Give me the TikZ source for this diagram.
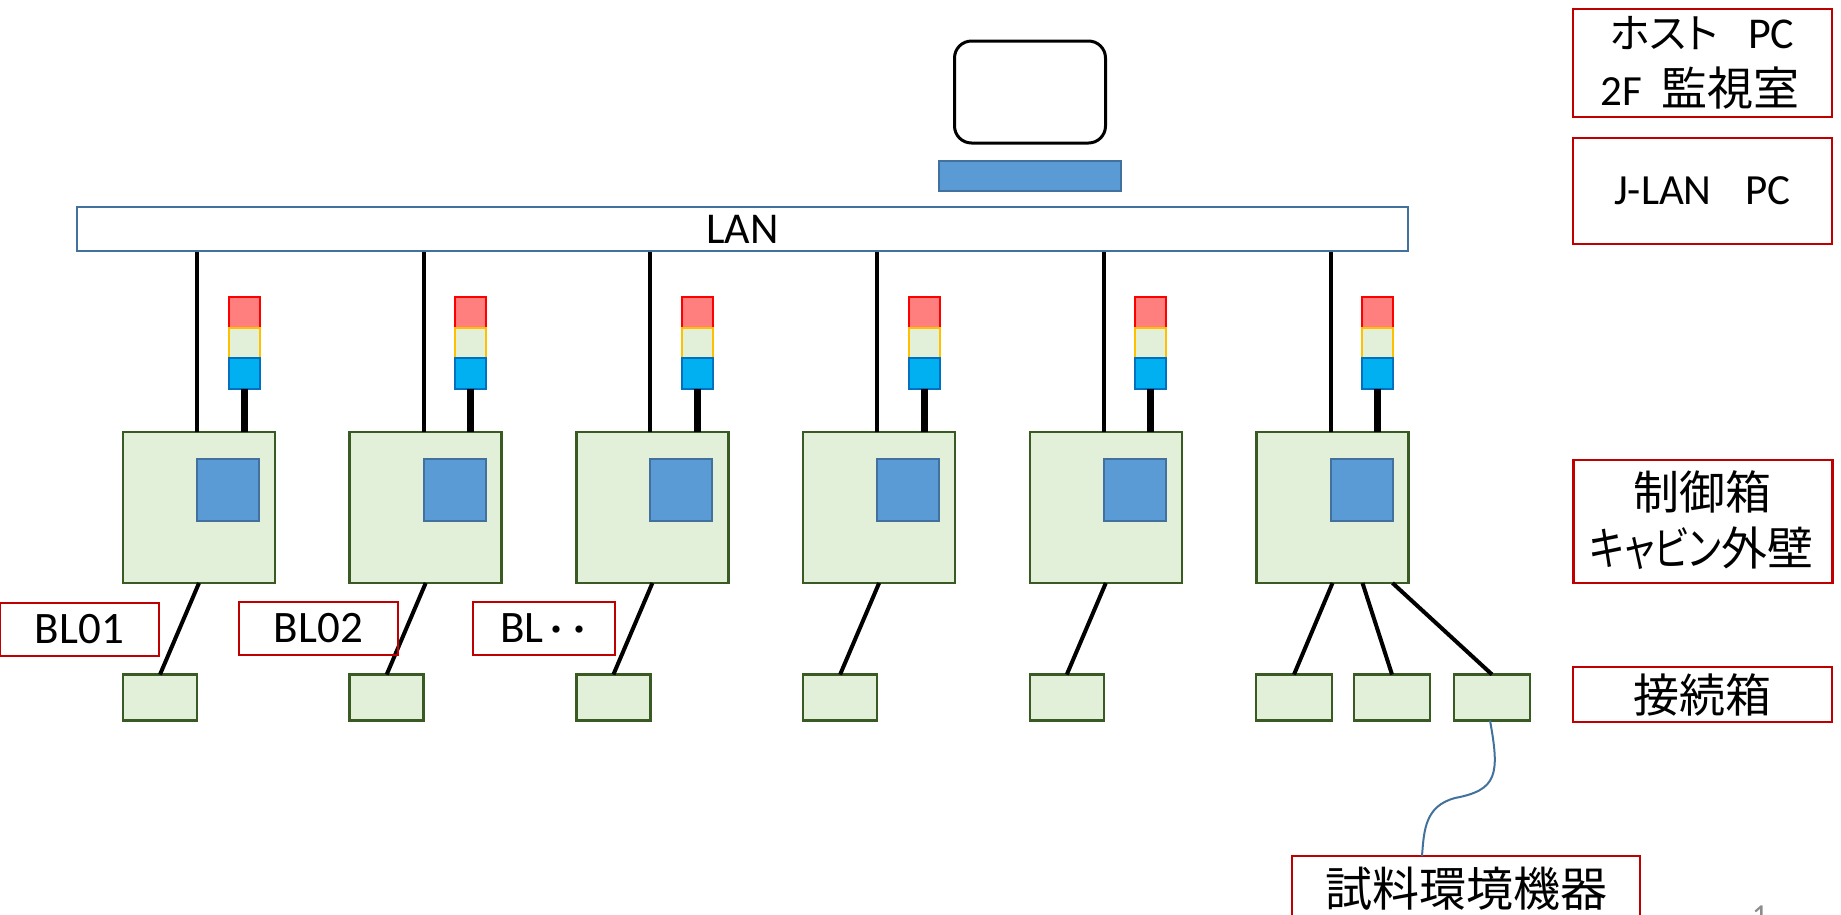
\documentclass[tikz,border=0pt]{standalone}
\usepackage{fontspec}
\setmainfont{Carlito}
\newfontfamily\jp{Noto Sans CJK JP}[RawFeature=+palt]
\newfontfamily\jpn{Noto Sans CJK JP}[RawFeature=+palt, FakeStretch=0.8]
\newcommand\setfs[1]{\fontsize{#1}{#1}\selectfont}
\definecolor{gfill}{HTML}{E2F0D9}
\definecolor{gdraw}{HTML}{3A5A23}
\definecolor{bfill}{HTML}{5B9BD5}
\definecolor{bdraw}{HTML}{41719C}
\definecolor{lred}{HTML}{FF7F7F}
\definecolor{lredd}{HTML}{FF0000}
\definecolor{lblue}{HTML}{00B0F0}
\definecolor{lbluedraw}{HTML}{0070C0}
\definecolor{lyel}{HTML}{FFC000}
\definecolor{lblred}{HTML}{C00000}
\definecolor{pgray}{HTML}{8C8C8C}
\begin{document}
\begin{tikzpicture}[x=1pt,y=-1pt,
 ctrlbox/.style={draw=gdraw, fill=gfill, line width=2.5pt, minimum width=152pt, minimum height=151pt, inner sep=0pt, outer sep=0pt},
 unitbox/.style={draw=bdraw, fill=bfill, line width=2pt, minimum width=62pt, minimum height=62pt, inner sep=0pt},
 jbox/.style={draw=gdraw, fill=gfill, line width=2.5pt, minimum width=74pt, minimum height=46pt, inner sep=0pt, outer sep=0pt},
 lamp/.style={line width=2pt, minimum width=31pt, minimum height=30.5pt, inner sep=0pt, outer sep=0pt},
 redlamp/.style={lamp, draw=lredd, fill=lred},
 yellamp/.style={lamp, draw=lyel, fill=gfill},
 bluelamp/.style={lamp, draw=lbluedraw, fill=lblue},
 wire/.style={line width=4pt, black},
 thickwire/.style={line width=7pt, black},
 lbl/.style={draw=lblred, line width=2.5pt, inner sep=0pt, outer sep=0pt, align=center},
 txt/.style={inner sep=0pt, anchor=base},
]
\useasboundingbox (0,0) rectangle (1841,914);

% host PC
\node[draw, line width=3pt, rounded corners=17pt, minimum width=151pt, minimum height=102pt, inner sep=0pt] (mon) at (1030,92) {};
\node[draw=bdraw, fill=bfill, line width=2pt, minimum width=182pt, minimum height=30pt, inner sep=0pt] (kbd) at (1030,176) {};

% LAN bar
\node[draw=bdraw, line width=2.5pt, minimum width=1331pt, minimum height=44pt, inner sep=0pt, font=\setfs{44}] (lan) at (742.5,229) {LAN};

\foreach \i in {0,...,5}{
  \pgfmathsetmacro\xl{123+226.7*\i}
  \node[ctrlbox] (cb\i) at (\xl+76, 507.5) {};
  \node[unitbox] (ub\i) at (\xl+105, 490) {};
  \node[redlamp] (tr\i) at (\xl+121, 312.25) {};
  \node[yellamp] (ty\i) at (\xl+121, 342.75) {};
  \node[bluelamp] (tb\i) at (\xl+121, 373.25) {};
  \coordinate (ld\i) at ([xshift=74pt]cb\i.north west);
  \draw[wire] (ld\i) -- (ld\i |- lan.south);
  \draw[thickwire] (tb\i.south) -- (tb\i.south |- cb\i.north);
}

% junction boxes
\foreach \i in {0,...,4}{
  \pgfmathsetmacro\xl{123+226.7*\i}
  \node[jbox] (jb\i) at (\xl+37, 697.5) {};
  \draw[wire] ([xshift=76pt]cb\i.south west) -- (jb\i.north);
}
\node[jbox, minimum width=76pt] (jb5) at (1294,697.5) {};
\node[jbox, minimum width=76pt] (jb6) at (1392,697.5) {};
\node[jbox, minimum width=76pt] (jb7) at (1492,697.5) {};
\draw[wire] ([xshift=76pt]cb5.south west) -- (jb5.north);
\draw[wire] ([xshift=106pt]cb5.south west) -- (jb6.north);
\draw[wire] ([xshift=136pt]cb5.south west) -- (jb7.north);

% BL labels
\node[lbl, minimum width=159pt, minimum height=53pt, font=\setfs{45}] (bl1) at (79.5,629.5) {BL01};
\node[lbl, minimum width=159pt, minimum height=53pt, font=\setfs{45}] (bl2) at (318.5,628.5) {BL02};
\node[lbl, minimum width=142pt, minimum height=53pt, font=\setfs{45}] (bl3) at (544,628.5) {BL\hspace{4pt}{\jp\setfs{34}・\hspace{6pt}・}};

% right labels
\node[lbl, minimum width=259pt, minimum height=108pt] (host) at (1702.5,63) {};
\node[txt] (host1) at (1702,48) {{\jp\setfs{41}ホスト}\hspace{30pt}{\setfs{44}PC}};
\node[txt] (host2) at (1700,105) {{\setfs{43}2F}\hspace{20pt}{\jp\setfs{46}監視室}};
\node[lbl, minimum width=259pt, minimum height=106pt, font=\setfs{43}] (jlan) at (1702.5,191) {J-LAN\hspace{34pt}PC};
\node[lbl, minimum width=259pt, minimum height=123pt] (ctrl) at (1703,521.5) {};
\node[txt] (ctrl1) at (1702.5,509) {\jp\setfs{46}制御箱};
\node[txt] (ctrl2) at (1701.5,565) {{\jpn\setfs{46}キャビン}{\jp\setfs{46}外壁}};
\node[lbl, minimum width=259pt, minimum height=55pt, font=\jp\setfs{46}] (junc) at (1702.5,694.5) {接続箱};
\node[lbl, minimum width=348pt, minimum height=66pt, font=\jp\setfs{47}] (smp) at (1466,889) {試料環境機器};

% cable
\draw[bdraw, line width=2pt] ([xshift=-2pt]jb7.south) .. controls (1500,775) and (1497,790) .. (1455,798)
  .. controls (1425,806) and (1424,830) .. ([xshift=-44pt]smp.north);

% page number
\node[text=pgray, anchor=base, font=\setfs{32}, inner sep=0pt] (pg) at (1760,926) {1};
\end{tikzpicture}
\end{document}
